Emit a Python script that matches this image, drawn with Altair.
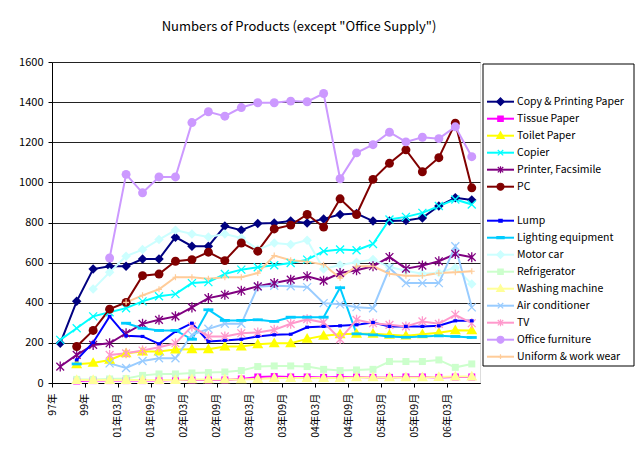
import altair as alt
import pandas as pd

categories = ["97年", "98年", "99年", "00年",
              "01年03月", "01年06月", "01年09月", "01年12月",
              "02年03月", "02年06月", "02年09月", "02年12月",
              "03年03月", "03年06月", "03年09月", "03年12月",
              "04年03月", "04年06月", "04年09月", "04年12月",
              "05年03月", "05年06月", "05年09月", "05年12月",
              "06年03月", "06年06月"]
shown_labels = ["97年", "99年", "01年03月", "01年09月", "02年03月", "02年09月",
                "03年03月", "03年09月", "04年03月", "04年09月", "05年03月",
                "05年09月", "06年03月"]

copy_paper = [198, 407, 568, 582, 582, 618, 618, 727, 682, 682, 782, 762, 795, 798, 807, 798, 818, 840, 845, 807, 807, 810, 823, 882, 923, 912]
tissue = [None, 10, 12, 12, 12, 12, 12, 15, 15, 15, 15, 20, 30, 32, 30, 30, 28, 30, 30, 28, 28, 30, 30, 28, 30, 30]
toilet = [None, 93, 100, 115, 148, 157, 157, 167, 168, 168, 182, 182, 193, 198, 198, 220, 235, 243, 245, 245, 240, 236, 243, 250, 263, 262]
copier = [215, 273, 332, 353, 373, 407, 432, 443, 498, 503, 543, 565, 577, 587, 598, 615, 657, 665, 662, 693, 815, 828, 848, 882, 915, 890]
printer = [82, 140, 190, 198, 248, 295, 315, 332, 377, 423, 440, 460, 482, 498, 515, 532, 510, 548, 562, 582, 628, 570, 585, 607, 643, 627]
pc = [None, 182, 262, 368, 402, 535, 543, 607, 615, 652, 610, 698, 657, 768, 787, 840, 777, 918, 840, 1015, 1095, 1162, 1053, 1123, 1295, 973]
lump = [None, 115, 202, 332, 235, 232, 195, 257, 298, 207, 212, 218, 232, 240, 243, 278, 282, 285, 290, 302, 282, 282, 282, 285, 310, 310]
lighting = [None, 95, None, None, 298, 273, 262, 262, 218, 365, 312, 312, 315, 307, 328, 328, 328, 475, 245, 240, 232, 228, 232, 235, 232, 227]
motor_car = [None, None, 468, 552, 632, 665, 715, 762, 743, 728, 743, 723, 665, 698, 690, 712, 568, 588, 602, 615, 578, 560, 545, 550, 575, 493]
refrigerator = [None, 18, 18, 20, 22, 38, 45, 45, 50, 52, 55, 62, 82, 85, 85, 82, 68, 62, 65, 68, 107, 107, 107, 115, 78, 95]
washing = [None, 15, 15, 15, 15, 15, 15, 15, 18, 18, 18, 18, 20, 25, 25, 25, 25, 25, 28, 28, 28, 28, 28, 30, 32, 32]
aircon = [None, None, None, 98, 75, 110, 123, 123, 240, 270, 295, 295, 480, 485, 482, 478, 398, 392, 378, 373, 573, 498, 498, 498, 682, 377]
tv = [None, None, None, 140, 148, 162, 178, 198, 282, 232, 232, 248, 252, 265, 295, 318, 302, 219, 315, 298, 290, 282, 307, 295, 340, 298]
office = [None, None, None, 623, 1040, 948, 1027, 1027, 1298, 1352, 1330, 1373, 1397, 1397, 1405, 1402, 1443, 1018, 1147, 1188, 1250, 1202, 1225, 1218, 1277, 1128]
uniform = [None, None, None, None, 402, 437, 467, 527, 527, 520, 527, 527, 548, 635, 612, 605, 590, 523, 582, 582, 545, 535, 535, 548, 552, 557]

series_names = ["Copy & Printing Paper", "Tissue Paper", "Toilet Paper", "Copier",
                "Printer, Facsimile", "PC", " ", "Lump", "Lighting equipment",
                "Motor car", "Refrigerator", "Washing machine", "Air conditioner",
                "TV", "Office furniture", "Uniform & work wear"]
series_values = [copy_paper, tissue, toilet, copier, printer, pc, None, lump, lighting,
                 motor_car, refrigerator, washing, aircon, tv, office, uniform]
series_colors = ["#000080", "#FF00FF", "#FFFF00", "#00FFFF", "#800080", "#800000",
                 "#FFFFFF", "#0000FF", "#00CCFF", "#CCFFFF", "#CCFFCC", "#FFFF99",
                 "#99CCFF", "#FF99CC", "#CC99FF", "#FFCC99"]
series_widths = [2, 2, 2, 2, 2, 2, 0, 1, 2, 2, 2, 2, 1.6, 2, 2, 1.2]

# marker shapes (unit-square paths)
DIAMOND = "M0,-1L1,0L0,1L-1,0Z"
SQUARE = "M-1,-1H1V1H-1Z"
TRI = "M0,-1.1L1.05,0.75H-1.05Z"
XMARK = "M-1,-1L1,1M-1,1L1,-1"
ASTER = "M-1,-1L1,1M-1,1L1,-1M0,-1.3V1.3"
PLUS = "M-1,0H1M0,-1V1"
DASH = "M-1,-0.28H1V0.28H-1Z"
LUMP = "M-0.6,-0.5H0.6V0.5H-0.6Z"

# legend marker shapes, per series (blank entry has none)
L_DIAMOND = "M0,-1.25L1.25,0L0,1.25L-1.25,0Z"
L_SQUARE = "M-0.9,-0.9H0.9V0.9H-0.9Z"
L_TRI = "M0,-1.3L1.25,0.9H-1.25Z"
L_X = "M-0.9,-0.9L0.9,0.9M-0.9,0.9L0.9,-0.9"
L_ASTER = "M-0.9,-0.9L0.9,0.9M-0.9,0.9L0.9,-0.9M0,-1.15V1.15"
L_CIRCLE = "M1.15,0A1.15,1.15 0 1,1 -1.15,0A1.15,1.15 0 1,1 1.15,0Z"
L_LUMP = "M-0.55,-0.45H0.55V0.45H-0.55Z"
L_DASH = "M-1.2,-0.34H1.2V0.34H-1.2Z"
L_PLUS = "M-0.8,0H0.8M0,-0.8V0.8"
legend_markers = [L_DIAMOND, L_SQUARE, L_TRI, L_X, L_ASTER, L_CIRCLE, "M0,0L0.01,0", L_LUMP,
                  L_DASH, L_DIAMOND, L_SQUARE, L_TRI, L_X, L_ASTER, L_CIRCLE, L_PLUS]

rows = []
for name, vals in zip(series_names, series_values):
    if vals is None:
        continue
    for i, (cat, v) in enumerate(zip(categories, vals)):
        rows.append({"cat": cat, "idx": i, "series": name, "value": v})
df = pd.DataFrame(rows)
legend_df = pd.DataFrame({"series": [n for n, v in zip(series_names, series_values) if v is not None]})

FONT = "Noto Sans CJK JP"

x_enc = alt.X("cat:O", sort=categories,
              scale=alt.Scale(domain=categories, padding=0.5),
              axis=alt.Axis(values=shown_labels, labelAngle=-90, title=None,
                            labelFontSize=10.5, labelColor="black", labelPadding=6,
                            domainColor="black", tickColor="black", tickSize=4,
                            tickOffset=-8.2, labelFont=FONT))
y_enc = alt.Y("value:Q", scale=alt.Scale(domain=[0, 1600], nice=False),
              axis=alt.Axis(values=list(range(0, 1601, 200)), format="d", title=None,
                            labelFontSize=11, labelColor="black", labelPadding=5,
                            gridColor="#222222", gridWidth=1, domainColor="black",
                            tickColor="black", tickSize=4, labelFont=FONT))
color_scale = alt.Scale(domain=series_names, range=series_colors)

base = alt.Chart(df)

lines = base.mark_line().encode(
    x=x_enc, y=y_enc,
    color=alt.Color("series:N", scale=color_scale, legend=None),
    strokeWidth=alt.StrokeWidth("series:N", scale=alt.Scale(domain=series_names, range=series_widths), legend=None),
    order=alt.Order("idx:Q"),
)


def pts(names, shape, size, filled, sw=1.0):
    return base.transform_filter(
        alt.FieldOneOfPredicate(field="series", oneOf=names)
    ).mark_point(shape=shape, size=size, filled=filled, opacity=1, strokeWidth=sw).encode(
        x=x_enc, y=y_enc,
        color=alt.Color("series:N", scale=color_scale, legend=None),
    )


plot = alt.layer(
    lines,
    pts(["Copy & Printing Paper", "Motor car"], DIAMOND, 90, True),
    pts(["Tissue Paper", "Refrigerator"], SQUARE, 49, True),
    pts(["Toilet Paper", "Washing machine"], TRI, 110, True),
    pts(["Copier", "Air conditioner"], XMARK, 64, False, 1.3),
    pts(["Printer, Facsimile", "TV"], ASTER, 60, False, 1.3),
    pts(["PC", "Office furniture"], "circle", 80, True),
    pts(["Lump"], LUMP, 40, True),
    pts(["Lighting equipment"], DASH, 100, True),
    pts(["Uniform & work wear"], PLUS, 36, False, 1.2),
)

# ---- legend panel (right of the plot), entries placed by a point scale over the series ----
leg_y = alt.Y("series:N", sort=series_names, axis=None,
              scale=alt.Scale(type="point", domain=series_names, range=[39.7, 294.7], padding=0))
leg_base = alt.Chart(legend_df)

legend_box = alt.Chart(pd.DataFrame({"box": [0]})).mark_rect(
    fill="white", stroke="black", strokeWidth=1
).encode(x=alt.value(431), x2=alt.value(582), y=alt.value(2), y2=alt.value(304))

legend_lines = leg_base.mark_rule(strokeWidth=2).encode(
    x=alt.value(435), x2=alt.value(462), y=leg_y,
    color=alt.Color("series:N", scale=color_scale, legend=None),
)
legend_marks = leg_base.mark_point(filled=True, opacity=1, size=36, strokeWidth=1.2).encode(
    x=alt.value(448.5), y=leg_y,
    shape=alt.Shape("series:N", scale=alt.Scale(domain=series_names, range=legend_markers), legend=None),
    fill=alt.Fill("series:N", scale=alt.Scale(domain=series_names, range=series_colors), legend=None),
    stroke=alt.Stroke("series:N", scale=alt.Scale(domain=series_names, range=series_colors), legend=None),
)
legend_text = leg_base.mark_text(align="left", baseline="middle", font=FONT,
                                 fontSize=10.5, color="black").encode(
    x=alt.value(465), y=leg_y, text="series:N",
)
legend = alt.layer(legend_box, legend_lines, legend_marks, legend_text)

chart = alt.layer(plot, legend).resolve_scale(y="independent").properties(
    width=428, height=321,
    autosize=alt.AutoSizeParams(type="none"),
    padding={"left": 44, "top": 54, "right": 155, "bottom": 59},
    title=alt.TitleParams(text='Numbers of Products (except "Office Supply")',
                          fontSize=13, font=FONT, fontWeight="normal", color="black",
                          anchor="middle", dx=33, offset=22),
).configure_view(stroke="#808080", strokeWidth=1).configure(
    font=FONT, background="white"
)

chart.save("out.html", embed_options={"renderer": "svg", "actions": False})
